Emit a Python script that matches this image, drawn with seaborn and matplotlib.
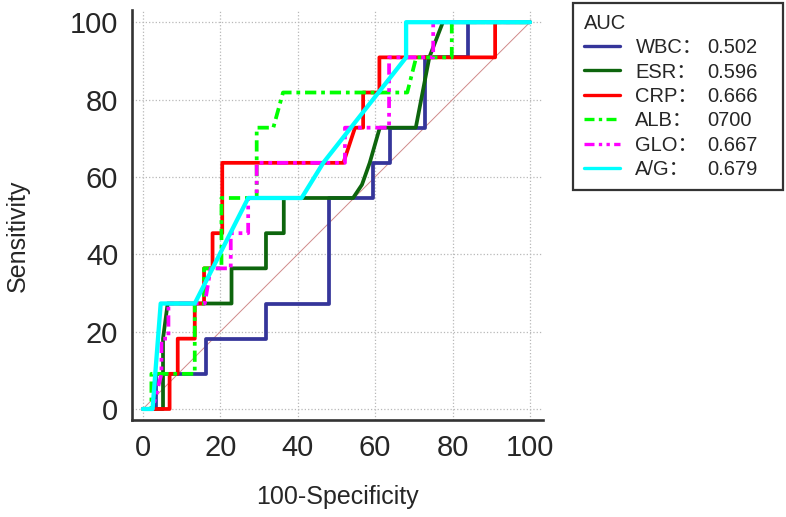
import pandas as pd
import matplotlib
matplotlib.use("Agg")
import matplotlib.pyplot as plt
import seaborn as sns

# ROC curve vertices (100-Specificity, Sensitivity)
wbc_x = [0, 3.5, 3.5, 16.3, 16.3, 31.8, 31.8, 48.1, 48.1, 59.4, 59.4, 63.8, 63.8, 72.9, 72.9, 84.1, 84.1, 100]
wbc_y = [0, 0, 9.09, 9.09, 18.18, 18.18, 27.27, 27.27, 54.55, 54.55, 63.64, 63.64, 72.73, 72.73, 90.91, 90.91, 100, 100]

esr_x = [0, 5.2, 5.2, 6.4, 22.9, 22.9, 31.8, 31.8, 36.4, 36.4, 54.3, 56.6, 58.6, 61.2, 70.5, 74.0, 77.5, 100]
esr_y = [0, 0, 18.18, 27.27, 27.27, 36.36, 36.36, 45.45, 45.45, 54.55, 54.55, 58.0, 63.64, 72.73, 72.73, 90.91, 100, 100]

crp_x = [0, 6.9, 6.9, 9.0, 9.0, 13.4, 13.4, 15.8, 15.8, 18.0, 18.0, 20.5, 20.5, 51.8, 54.8, 56.9, 56.9, 61.1, 61.1, 91.0, 91.0, 100]
crp_y = [0, 0, 9.09, 9.09, 18.18, 18.18, 27.27, 27.27, 36.36, 36.36, 45.45, 45.45, 63.64, 63.64, 72.73, 72.73, 81.82, 81.82, 90.91, 90.91, 100, 100]

alb_x = [0, 2.2, 2.2, 13.4, 13.4, 15.8, 15.8, 20.3, 20.3, 29.4, 29.4, 33.7, 36.2, 68.3, 70.6, 79.8, 79.8, 100]
alb_y = [0, 0, 9.09, 9.09, 27.27, 27.27, 36.36, 36.36, 54.55, 54.55, 72.73, 72.73, 81.82, 81.82, 90.91, 90.91, 100, 100]

glo_x = [0, 2.5, 4.8, 4.8, 6.6, 6.6, 16.0, 17.5, 22.7, 22.7, 27.2, 27.2, 29.4, 29.4, 52.2, 52.2, 63.6, 63.6, 75.0, 75.0, 100]
glo_y = [0, 0, 9.09, 18.18, 18.18, 27.27, 27.27, 36.36, 36.36, 45.45, 45.45, 54.55, 54.55, 63.64, 63.64, 72.73, 72.73, 90.91, 90.91, 100, 100]

ag_x = [0, 2.5, 4.6, 13.4, 27.2, 41.0, 46.6, 68.0, 68.0, 100]
ag_y = [0, 0, 27.27, 27.27, 54.55, 54.55, 63.64, 90.91, 100, 100]

names = ["WBC", "ESR", "CRP", "ALB", "GLO", "A/G"]
auc_text = ["0.502", "0.596", "0.666", "0700", "0.667", "0.679"]
curves_x = [wbc_x, esr_x, crp_x, alb_x, glo_x, ag_x]
curves_y = [wbc_y, esr_y, crp_y, alb_y, glo_y, ag_y]

colors = ["#35359a", "#0d650d", "#ff0000", "#00ff00", "#ff00ff", "#00ffff"]
styles = ["-", "-", "-", (0, (3, 1.3, 1, 1.3)), (0, (3, 1.3, 1, 1.3, 1, 1.3)), "-"]
widths = [2.7, 2.7, 2.7, 2.7, 2.7, 3.1]

sns.set_style("white")
plt.rcParams["font.family"] = ["Liberation Sans", "Noto Sans CJK SC", "DejaVu Sans"]

fig = plt.figure(figsize=(7.86, 5.17), dpi=100)
ax = fig.add_axes([0.168, 0.188, 0.523, 0.793])

# diagonal reference
sns.lineplot(x=[0, 100], y=[0, 100], ax=ax, color="#d08a8a", lw=0.7, zorder=1)

for i in range(len(names)):
    df = pd.DataFrame({"x": curves_x[i], "y": curves_y[i]})
    sns.lineplot(data=df, x="x", y="y", ax=ax, sort=False, estimator=None,
                 color=colors[i], lw=widths[i], linestyle=styles[i],
                 zorder=2 + i, label=names[i] + "：")

ax.set_xlim(-2.8, 103.4)
ax.set_ylim(-2.8, 103.2)
ax.set_xticks(range(0, 101, 20))
ax.set_yticks(range(0, 101, 20))
ax.set_xticks(range(0, 101, 5), minor=True)
ax.set_yticks(range(0, 101, 5), minor=True)
ax.grid(True, which="major", linestyle=":", color="#b8b8b8", lw=0.9)
ax.tick_params(which="major", direction="in", length=7.5, width=1.6,
               color="#333333", labelsize=21, pad=10)
ax.tick_params(which="minor", direction="in", length=4, width=1.2, color="#333333")
for s in ["top", "right"]:
    ax.spines[s].set_visible(False)
for s in ["left", "bottom"]:
    ax.spines[s].set_color("#333333")
    ax.spines[s].set_linewidth(1.9)
ax.set_xlabel("100-Specificity", fontsize=18, labelpad=17)
ax.set_ylabel("Sensitivity", fontsize=18)
ax.yaxis.set_label_coords(-0.248, 0.449)

leg = ax.legend(title="AUC", loc="upper left", bbox_to_anchor=(0.729, 0.63, 0.267, 0.365),
                bbox_transform=fig.transFigure, mode="expand", borderaxespad=0,
                fontsize=14.5, title_fontsize=14.5, alignment="left",
                handlelength=1.8, handletextpad=0.75, labelspacing=0.27,
                fancybox=False, edgecolor="#333333", framealpha=1,
                borderpad=0.55)
leg.get_frame().set_linewidth(1.6)
for line in leg.get_lines():
    line.set_linewidth(2.4)

fig.canvas.draw()
W, H = fig.canvas.get_width_height()
for t, val in zip(leg.get_texts(), auc_text):
    px, py = t.get_transform().transform(t.get_position())
    fig.text(707 / 786, py / H, val, fontsize=14.5, va="baseline", ha="left")

fig.savefig("out.png", dpi=100)
